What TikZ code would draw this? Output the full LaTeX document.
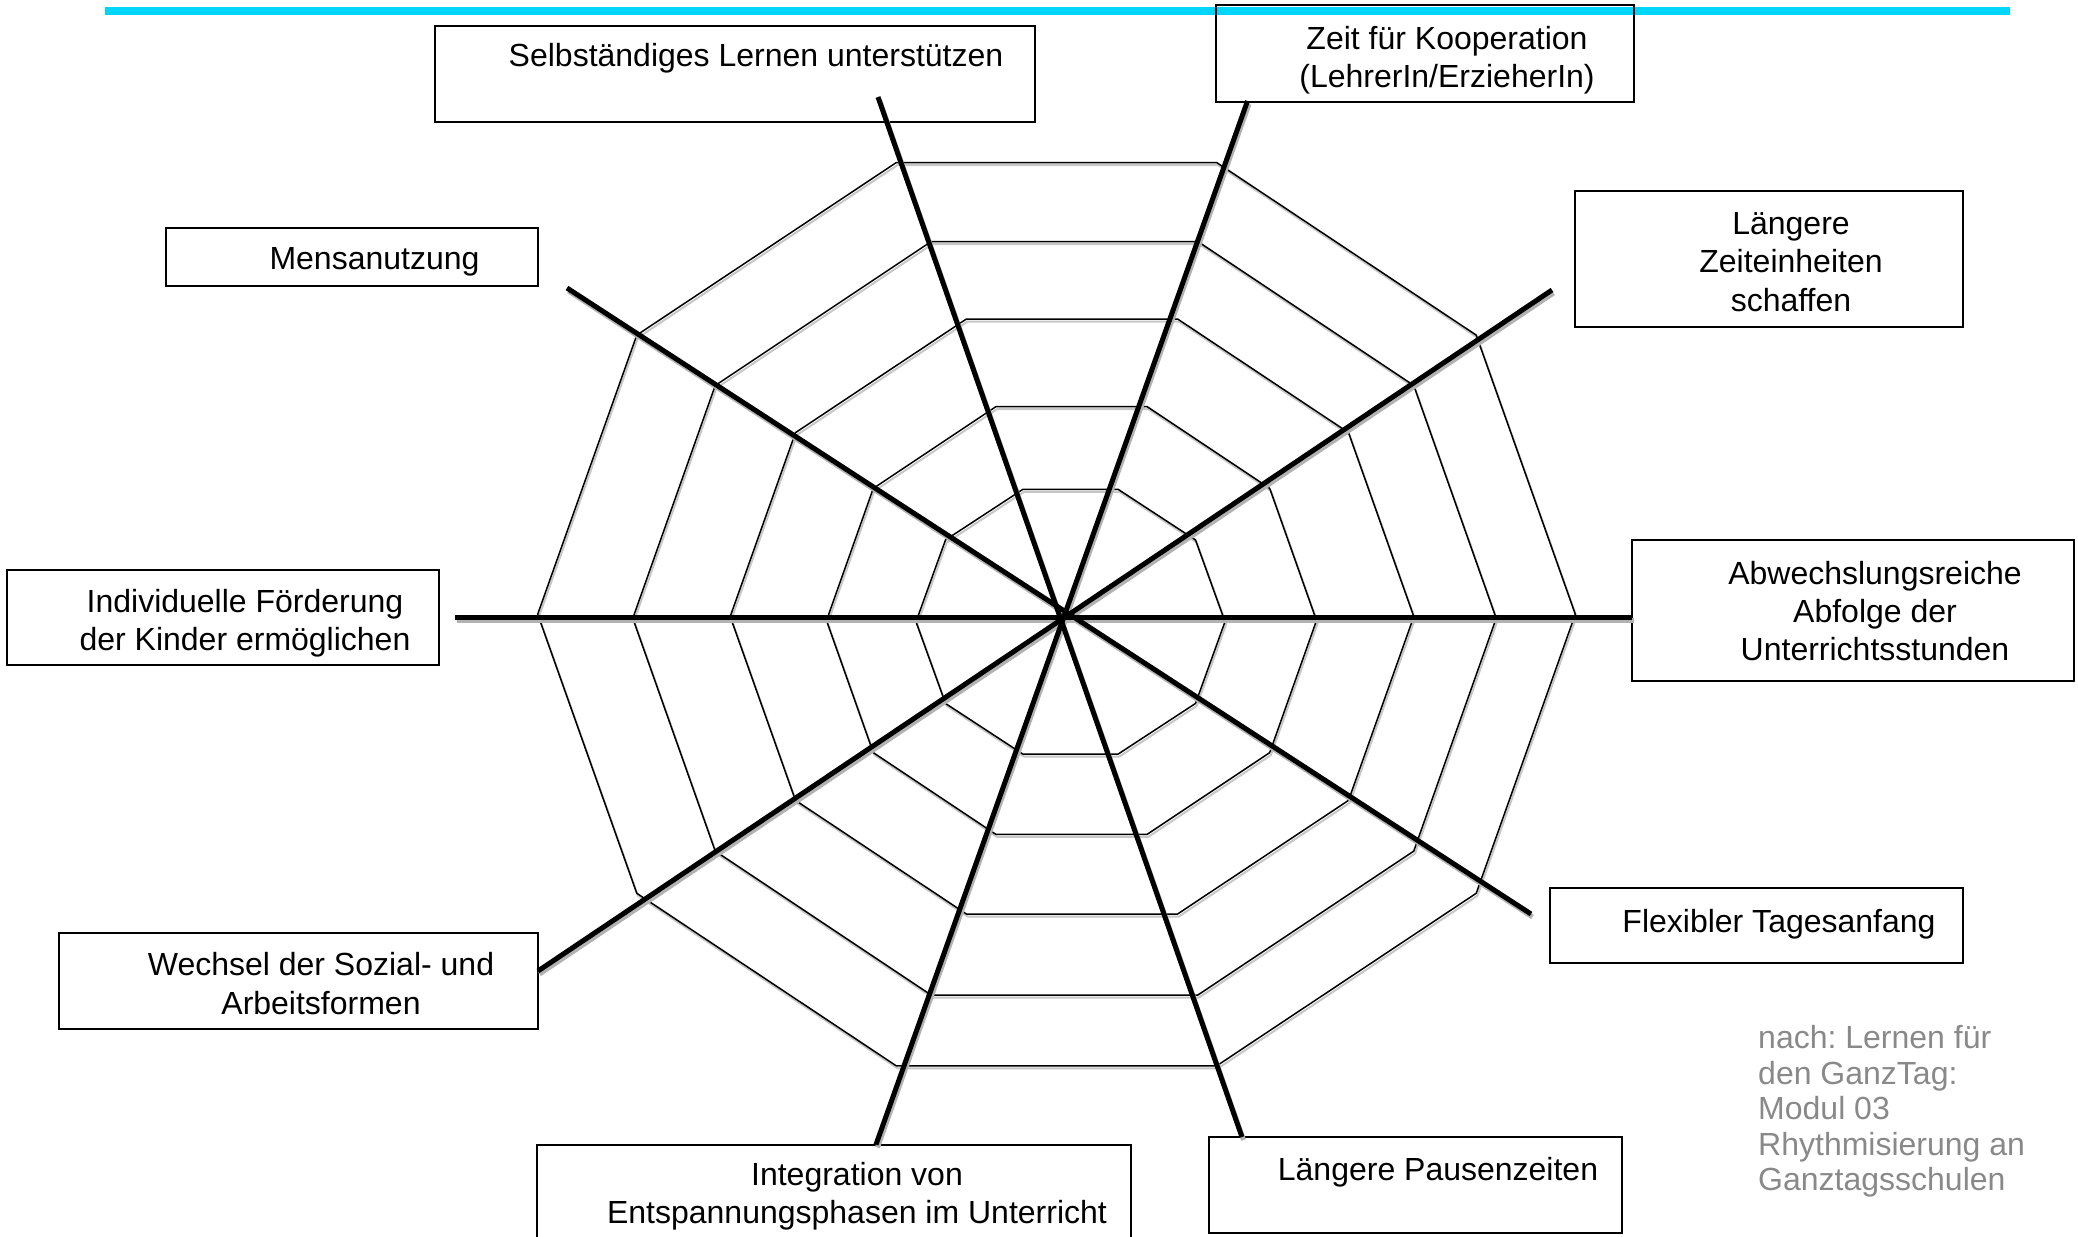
\documentclass[tikz,border=0pt]{standalone}
\usepackage{fontspec}
\newfontfamily\boxfont{Liberation Sans}
\definecolor{cyanline}{RGB}{0,214,250}
\definecolor{creditgray}{RGB}{137,137,137}
\frenchspacing
\begin{document}
\begin{tikzpicture}[x=1pt,y=-1pt,
  ring/.style={draw=black, line width=1.5pt, line join=round},
  ringshadow/.style={draw=black!22, line width=2pt, line join=round},
  spoke/.style={draw=black, line width=5pt},
  spokeshadow/.style={draw=black!30, line width=5pt},
  itembox/.style={draw=black, line width=2pt, inner sep=0pt},
  boxtext/.style={font=\boxfont\frenchspacing\fontsize{32}{38.3}\selectfont, inner sep=0pt, align=center},
  credit/.style={font=\boxfont\frenchspacing\fontsize{32}{35.5}\selectfont, text=creditgray, inner sep=0pt, align=left, anchor=west}]
\useasboundingbox (0,0) rectangle (2078,1237);

% top rule
\coordinate (ruleL) at (105,10.7);
\coordinate (ruleR) at (2010,10.7);
\draw[cyanline, line width=8pt] (ruleL) -- (ruleR);

% web rings
\foreach \cx/\cy/\rx/\ry in {1070.5/621.7/154.5/139.1, 1071.5/620.5/245/224.8, 1072/616.5/341.8/312.8, 1064.5/618.3/431.7/396.1, 1056.5/614.2/518.8/474.8}{
  \draw[ringshadow] ({\cx+1.2+\rx},{\cy+2.5}) \foreach \a in {36,72,...,324}{ -- ({\cx+1.2+\rx*cos(\a)},{\cy+2.5+\ry*sin(\a)})} -- cycle;
  \draw[ring] ({\cx+\rx},{\cy}) \foreach \a in {36,72,...,324}{ -- ({\cx+\rx*cos(\a)},{\cy+\ry*sin(\a)})} -- cycle;
}

% boxes
\node[itembox, minimum width=600pt, minimum height=96pt] (sel) at (735,74) {};
\node[itembox, minimum width=418pt, minimum height=97pt] (zeit) at (1425,53.5) {};
\node[itembox, minimum width=388pt, minimum height=136pt] (zeitein) at (1769,259) {};
\node[itembox, minimum width=442pt, minimum height=141pt] (abw) at (1853,610.5) {};
\node[itembox, minimum width=412.5pt, minimum height=75pt] (flex) at (1756.5,925.7) {};
\node[itembox, minimum width=413pt, minimum height=96pt] (pause) at (1415.5,1185) {};
\node[itembox, minimum width=594pt, minimum height=100pt] (integ) at (834,1194.5) {};
\node[itembox, minimum width=479pt, minimum height=96pt] (wechsel) at (298.5,981) {};
\node[itembox, minimum width=432pt, minimum height=95pt] (indiv) at (222.65,617.5) {};
\node[itembox, minimum width=372pt, minimum height=58pt] (mensa) at (352,257) {};

% spoke ends
\coordinate (a1) at (878,97);
\coordinate (a2) at (1242,1137);
\coordinate (b1) at (1247.5,101);
\coordinate (b2) at (876,1144.5);
\coordinate (c1) at (1552,290);
\coordinate (c2) at (538,971);
\coordinate (d1) at (455,617);
\coordinate (d2) at (1632,617);
\coordinate (e1) at (567,288);
\coordinate (e2) at (1531,914);

\foreach \p/\q in {a1/a2, b1/b2, c1/c2, d1/d2, e1/e2}
  \draw[spokeshadow] ([shift={(1.5,3)}]\p) -- ([shift={(1.5,3)}]\q);
\foreach \p/\q in {a1/a2, b1/b2, c1/c2, d1/d2, e1/e2}
  \draw[spoke] (\p) -- (\q);

% texts
\node[boxtext] (selT) at (756,58.35) {\strut Selbständiges Lernen unterstützen};
\node[boxtext] (zeitT) at (1447,60.6) {\strut Zeit für Kooperation\\\strut (LehrerIn/ErzieherIn)};
\node[boxtext] (zeiteinT) at (1791,265.1) {\strut Längere\\\strut Zeiteinheiten\\\strut schaffen};
\node[boxtext] (abwT) at (1875,614.85) {\strut Abwechslungsreiche\\\strut Abfolge der\\\strut Unterrichtsstunden};
\node[boxtext] (flexT) at (1779,924.85) {\strut Flexibler Tagesanfang};
\node[boxtext] (pauseT) at (1438,1172.85) {\strut Längere Pausenzeiten};
\node[boxtext] (integT) at (857,1197.1) {\strut Integration von\\\strut Entspannungsphasen im Unterricht};
\node[boxtext] (wechselT) at (321,987.35) {\strut Wechsel der Sozial- und\\\strut Arbeitsformen};
\node[boxtext] (indivT) at (245,623.6) {\strut Individuelle Förderung\\\strut der Kinder ermöglichen};
\node[boxtext] (mensaT) at (374.5,261.5) {\strut Mensanutzung};

\node[credit] (creditT) at (1758,1112.5) {\strut nach: Lernen für\\\strut den GanzTag:\\\strut Modul 03\\\strut Rhythmisierung an\\\strut Ganztagsschulen};
\end{tikzpicture}
\end{document}
